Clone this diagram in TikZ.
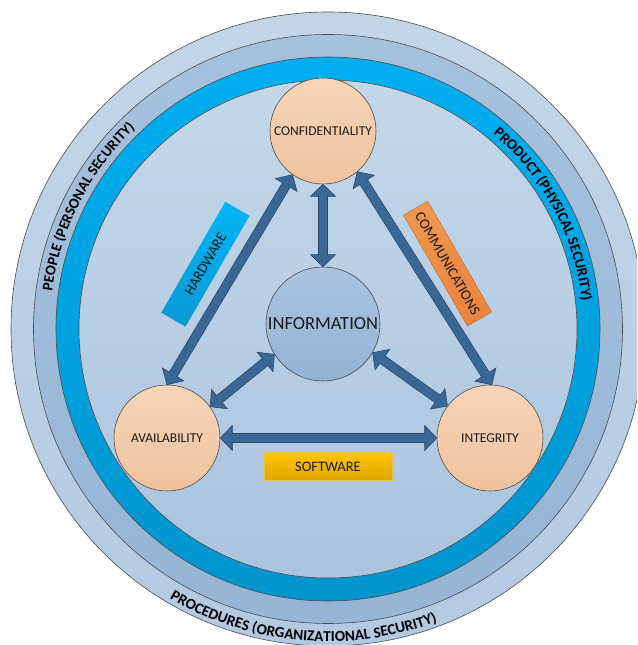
\documentclass[tikz,border=0pt]{standalone}
\usepackage{fontspec}
\setmainfont{Carlito}
\usetikzlibrary{calc,decorations.text}

\definecolor{ringA}{HTML}{C2D6E8}
\definecolor{ringAb}{HTML}{B2C9E1}
\definecolor{ringB}{HTML}{A6C1DC}
\definecolor{ringBb}{HTML}{95B4D6}
\definecolor{ringC}{HTML}{00AEEF}
\definecolor{ringCb}{HTML}{0094CE}
\definecolor{diskT}{HTML}{C3D7E9}
\definecolor{diskB}{HTML}{AAC4DE}
\definecolor{peachT}{HTML}{F6D6B8}
\definecolor{peachB}{HTML}{F0C29E}
\definecolor{infoT}{HTML}{AAC4DF}
\definecolor{infoB}{HTML}{93B2D4}
\definecolor{arrowfill}{HTML}{3A6896}
\definecolor{arrowline}{HTML}{2A4766}
\definecolor{hwT}{HTML}{00B6F3}
\definecolor{hwB}{HTML}{0A98D4}
\definecolor{comT}{HTML}{F39850}
\definecolor{comB}{HTML}{E8823A}
\definecolor{swT}{HTML}{FCC500}
\definecolor{swB}{HTML}{E0A500}

\newcommand{\ringfont}{\bfseries\fontsize{14.8}{15}\selectfont}
\newcommand{\procfont}{\bfseries\fontsize{15.2}{16}\selectfont}
\def\ahl{12pt}
\def\ahw{12.5pt}
\def\asw{4.5pt}
\newcommand{\blockarrow}[2]{%
  \filldraw[fill=arrowfill, draw=arrowline, line width=0.6pt, line join=miter]
  (#1) -- ($(#1)!\ahl!(#2)!\ahw!90:(#2)$) -- ($(#1)!\ahl!(#2)!\asw!90:(#2)$)
  -- ($(#2)!\ahl!(#1)!\asw!-90:(#1)$) -- ($(#2)!\ahl!(#1)!\ahw!-90:(#1)$)
  -- (#2) -- ($(#2)!\ahl!(#1)!\ahw!90:(#1)$) -- ($(#2)!\ahl!(#1)!\asw!90:(#1)$)
  -- ($(#1)!\ahl!(#2)!\asw!-90:(#2)$) -- ($(#1)!\ahl!(#2)!\ahw!-90:(#2)$) -- cycle;}

\tikzset{
  ringline/.style={draw=black!70, line width=0.6pt},
  peach/.style={circle, draw=black!70, line width=0.6pt, top color=peachT, bottom color=peachB,
    inner sep=0pt, minimum size=106pt, text=black!90, font=\fontsize{13.5}{14}\selectfont},
  infonode/.style={circle, draw=black!70, line width=0.6pt, top color=infoT, bottom color=infoB,
    inner sep=0pt, minimum size=114pt, text=black!90, font=\fontsize{18.5}{19}\selectfont},
  tag/.style={inner sep=0pt, minimum width=128pt, minimum height=28pt, text=black!90,
    font=\fontsize{14.5}{15}\selectfont},
}

\begin{document}
\begin{tikzpicture}[x=1pt,y=1pt]
\useasboundingbox (-328,-316) rectangle (309,329);
\clip (-328,-316) rectangle (309,329);

% rings
\draw[ringline, top color=ringA, bottom color=ringAb] (0,0) circle[radius=317];
\draw[ringline, top color=ringB, bottom color=ringBb] (0,0) circle[radius=294.5];
\draw[ringline, top color=ringC, bottom color=ringCb] (0,0) circle[radius=272];
\draw[ringline, top color=diskT, bottom color=diskB] (0,0) circle[radius=249];

% ring labels
\path[decorate, decoration={text along path, text color=black,
  text={|\ringfont|PEOPLE (PERSONAL SECURITY)}, text align=center}]
  (185:278.5) arc[start angle=185, end angle=121, radius=278.5];
\path[decorate, decoration={text along path, text color=black,
  text={|\ringfont|PRODUCT (PHYSICAL SECURITY)}, text align=center}]
  (62:255.5) arc[start angle=62, end angle=-6, radius=255.5];
\path[decorate, decoration={text along path, text color=black,
  text={|\procfont|PROCEDURES (ORGANIZATIONAL SECURITY)}, text align=center}]
  (-130:312.5) arc[start angle=-130, end angle=-60, radius=312.5];

% tags
\node[tag, rotate=60, top color=hwT, bottom color=hwB] (hw) at (-122.6,64.8) {HARDWARE};
\node[tag, rotate=-60, top color=comT, bottom color=comB, draw=comB!80!black, line width=0.4pt] (com) at (119.6,65.4) {COMMUNICATIONS};
\node[tag, top color=swT, bottom color=swB, draw=swB!70, line width=0.4pt] (sw) at (0,-137.5) {SOFTWARE};

% circles
\node[peach] (conf) at (-5,198) {CONFIDENTIALITY};
\node[infonode] (info) at (-5,5) {INFORMATION};
\node[peach] (avail) at (-161,-109) {AVAILABILITY};
\node[peach] (integ) at (162,-109) {INTEGRITY};

% arrows
\blockarrow{conf.south}{info.north}
\blockarrow{conf.235}{avail.90}
\blockarrow{conf.310}{integ.88}
\blockarrow{info.212}{avail.36}
\blockarrow{info.330}{integ.143}
\blockarrow{avail.east}{integ.west}
\end{tikzpicture}
\end{document}
